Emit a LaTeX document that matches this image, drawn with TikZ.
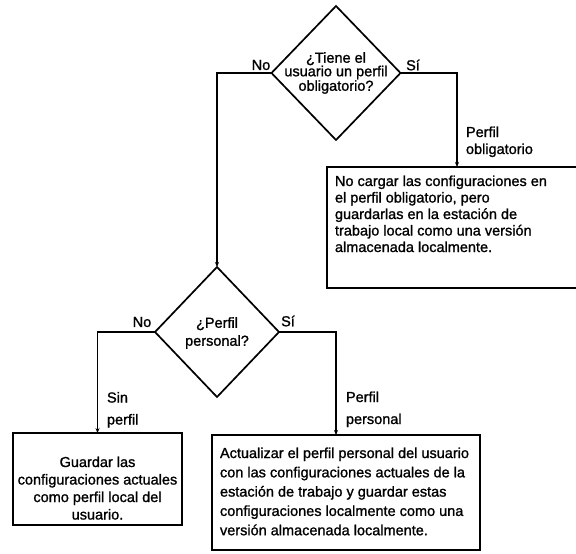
\documentclass[tikz,border=0pt]{standalone}
\usepackage{fontspec}
\setmainfont{Liberation Sans}[FakeBold=1.2]
\usetikzlibrary{shapes.geometric,arrows.meta}
\begin{document}
\begin{tikzpicture}[x=1pt,y=-1pt,
  line width=1.7pt,
  every node/.style={inner sep=0pt, outer sep=0pt, font=\fontsize{14.5}{17}\selectfont},
  decision/.style={diamond, draw, line width=1.7pt},
  procbox/.style={rectangle, draw, line width=1.7pt, anchor=north west},
  flow/.style={line width=1.5pt, -{Stealth[length=5pt,width=4pt]}},
  lbl/.style={align=left}
]
\useasboundingbox (0,0) rectangle (576,554);

% decisions
\node[decision, minimum width=129pt, minimum height=134pt] (d1) at (336,73) {};
\node[align=center, font=\fontsize{14.5}{13.5}\selectfont] (d1t) at (336,73) {¿Tiene el\\usuario un perfil\\obligatorio?};

\node[decision, minimum width=124pt, minimum height=130pt] (d2) at (217,332) {};
\node[align=center, font=\fontsize{14.5}{18}\selectfont] (d2t) at (217,333) {¿Perfil\\personal?};

% boxes
\node[procbox, minimum width=260pt, minimum height=121pt] (b1) at (327,167) {};
\node[anchor=north west, align=left, font=\fontsize{14.5}{16.5}\selectfont] (b1t) at (335,175.5)
  {No cargar las configuraciones en\\el perfil obligatorio, pero\\guardarlas en la estación de\\trabajo local como una versión\\almacenada localmente.};

\node[procbox, minimum width=169pt, minimum height=92pt] (b2) at (13,433) {};
\node[anchor=north, align=center, font=\fontsize{14.5}{17.5}\selectfont] (b2t) at (97.5,456.5)
  {Guardar las\\configuraciones actuales\\como perfil local del\\usuario.};

\node[procbox, minimum width=268pt, minimum height=115pt] (b3) at (212,435) {};
\node[anchor=north west, align=left, font=\fontsize{14.5}{19.3}\selectfont] (b3t) at (220,447.5)
  {Actualizar el perfil personal del usuario\\con las configuraciones actuales de la\\estación de trabajo y guardar estas\\configuraciones localmente como una\\versión almacenada localmente.};

% labels
\node (no1) at (261,65) {No};
\node (si1) at (413,65) {Sí};
\node[lbl, anchor=north west] (lpo) at (466,126.5) {Perfil\\obligatorio};
\node (no2) at (142,322) {No};
\node (si2) at (288,321) {Sí};
\node[lbl, anchor=north west, font=\fontsize{14.5}{22}\selectfont] (lsp) at (107,392) {Sin\\perfil};
\node[lbl, anchor=north west, font=\fontsize{14.5}{22}\selectfont] (lpp) at (346,391.5) {Perfil\\personal};

% connectors
\draw[flow] (d1.west) -| (d2.north);
\draw[flow] (d1.east) -| ([xshift=130pt]b1.north west);
\draw[flow] (d2.west) -| (b2.north);
\draw[flow] (d2.east) -| ([xshift=124pt]b3.north west);
\end{tikzpicture}
\end{document}
